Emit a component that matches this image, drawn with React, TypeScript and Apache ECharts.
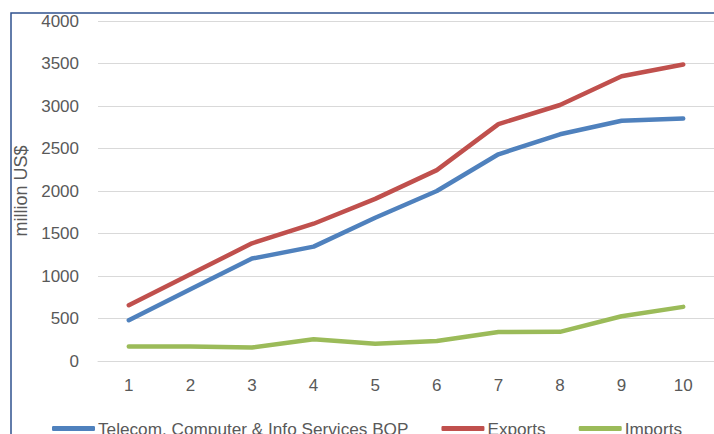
import React, { useEffect, useRef } from "react";
import * as echarts from "echarts";

const categories = ["1", "2", "3", "4", "5", "6", "7", "8", "9", "10"];
const telecomBop = [480, 843, 1205, 1346, 1685, 2000, 2432, 2667, 2826, 2852];
const exportsData = [657, 1020, 1385, 1615, 1907, 2246, 2787, 3012, 3350, 3489];
const importsData = [172, 170, 158, 257, 202, 235, 340, 343, 527, 637];
const seriesNames = ["Telecom. Computer & Info Services BOP", "Exports", "Imports"];
const colors = ["#4F81BD", "#C0504D", "#9BBB59"];

export default function App() {
  const ref = useRef<HTMLDivElement>(null);
  useEffect(() => {
    if (!ref.current) return;
    const chart = echarts.init(ref.current, undefined, { renderer: "svg" });
    const font = "Liberation Sans";
    const textColor = "#595959";
    const lineSeries = (name: string, data: number[], color: string) => ({
      name,
      type: "line",
      data,
      showSymbol: false,
      symbol: "none",
      lineStyle: { color, width: 4.5, cap: "round", join: "round" },
      itemStyle: { color },
    });
    chart.setOption({
      animation: false,
      backgroundColor: "#ffffff",
      textStyle: { fontFamily: font },
      grid: { left: 98, top: 21, width: 623, height: 340, containLabel: false },
      xAxis: {
        type: "category",
        data: categories,
        boundaryGap: true,
        axisLine: { show: true, lineStyle: { color: "#D9D9D9", width: 1 } },
        axisTick: { show: false },
        axisLabel: { color: textColor, fontSize: 17, fontFamily: font, margin: 16 },
      },
      yAxis: {
        type: "value",
        min: 0,
        max: 4000,
        interval: 500,
        name: "million US$",
        nameLocation: "middle",
        nameGap: 66,
        nameRotate: 90,
        nameTextStyle: { color: textColor, fontSize: 18, fontFamily: font },
        axisLine: { show: false },
        axisTick: { show: false },
        axisLabel: {
          color: textColor,
          fontSize: 17,
          fontFamily: font,
          margin: 19,
          formatter: (v: number) => String(v),
        },
        splitLine: { lineStyle: { color: "#D9D9D9", width: 1 } },
      },
      legend: {
        data: seriesNames,
        left: 52,
        top: 420,
        padding: 0,
        icon: "roundRect",
        itemWidth: 43,
        itemHeight: 5,
        itemGap: 33,
        textStyle: { color: textColor, fontSize: 17.2, fontFamily: font, padding: [0, 0, 0, -2] },
      },
      graphic: [
        {
          type: "rect",
          shape: { x: 11, y: 13, width: 760, height: 480 },
          style: { fill: "none", stroke: "#2F528F", lineWidth: 1.5 },
          z: 100,
        },
      ],
      series: [
        lineSeries(seriesNames[0], telecomBop, colors[0]),
        lineSeries(seriesNames[1], exportsData, colors[1]),
        lineSeries(seriesNames[2], importsData, colors[2]),
      ],
    });
    return () => chart.dispose();
  }, []);
  return (
    <div
      ref={ref}
      style={{ position: "fixed", left: 0, top: 0, width: 714, height: 434, background: "#fff" }}
    />
  );
}
